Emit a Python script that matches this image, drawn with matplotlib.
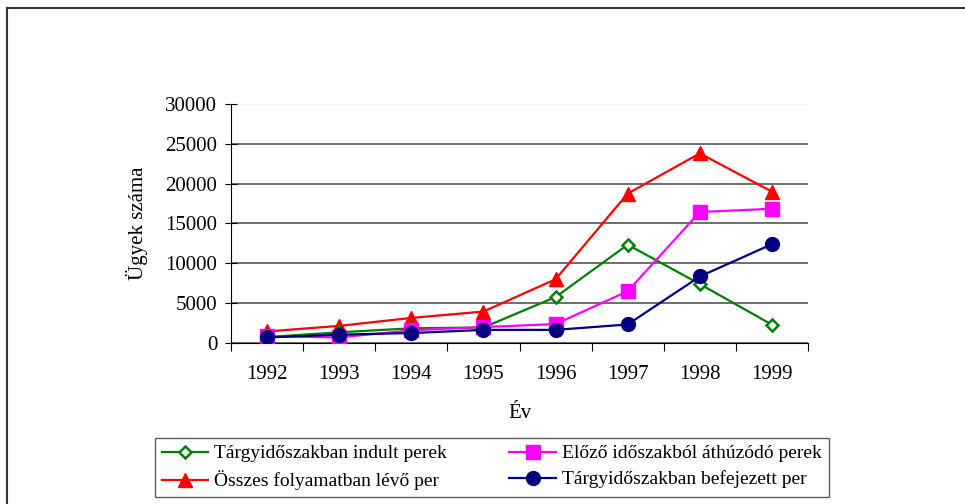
import matplotlib.pyplot as plt
from matplotlib.lines import Line2D

plt.rcParams['font.family'] = ['Liberation Serif', 'DejaVu Serif']

years = ['1992', '1993', '1994', '1995', '1996', '1997', '1998', '1999']
indult = [750, 1340, 1850, 1950, 5770, 12340, 7400, 2300]
athuzodo = [840, 710, 1590, 2000, 2380, 6500, 16440, 16850]
osszes = [1450, 2150, 3150, 3950, 8000, 18750, 23800, 19000]
befejezett = [700, 1050, 1250, 1650, 1650, 2330, 8350, 12400]

fig = plt.figure(figsize=(9.65, 5.04), dpi=100)
ax = fig.add_axes([0.2394, 0.3194, 0.5979, 0.4743])

x = list(range(len(years)))
l_red, = ax.plot(x, osszes, color='red', lw=1.6, marker='^', ms=10,
                 label='Összes folyamatban lévő per', zorder=3)
l_green, = ax.plot(x, indult, color='green', lw=1.6, marker='D', ms=6,
                   mfc='white', mec='green', mew=1.8,
                   label='Tárgyidőszakban indult perek', zorder=4)
l_mag, = ax.plot(x, athuzodo, color='magenta', lw=1.6, marker='s', ms=10,
                 label='Előző időszakból áthúzódó perek', zorder=5)
l_navy, = ax.plot(x, befejezett, color='navy', lw=1.6, marker='o', ms=10,
                  label='Tárgyidőszakban befejezett per', zorder=6)

ax.set_xlim(-0.5, len(years) - 0.5)
ax.set_ylim(0, 30000)
ax.set_yticks(range(0, 30001, 5000))
ax.set_xticks([i - 0.5 for i in range(len(years) + 1)])
ax.set_xticklabels([])
ax.set_xticks(x, minor=True)
ax.set_xticklabels(years, minor=True)
ax.tick_params(axis='x', which='major', direction='out', length=6, color='black')
ax.tick_params(axis='x', which='minor', length=0, pad=16, labelsize=15)
ax.tick_params(axis='y', direction='inout', length=8, labelsize=15, pad=6)

ax.spines['top'].set_visible(False)
ax.spines['right'].set_visible(False)
ax.grid(axis='y', color='#555555', lw=1.2)
ax.grid(axis='x', which='both', visible=False)
ax.get_ygridlines()[-1].set_color('#eeeeee')
ax.set_axisbelow(True)

ax.set_xlabel('Év', fontsize=15, labelpad=14)
ax.set_ylabel('Ügyek száma', fontsize=15, labelpad=12)

leg = fig.legend(handles=[l_green, l_red, l_mag, l_navy], ncol=2,
                 loc='upper left', bbox_to_anchor=(155 / 965, 1 - 438 / 504),
                 borderaxespad=0, fontsize=14, frameon=True, fancybox=False,
                 handlelength=2.4, columnspacing=3.2, borderpad=0.35,
                 labelspacing=0.42, handletextpad=0.3)
leg.get_frame().set_edgecolor('#333333')
leg.get_frame().set_linewidth(1.0)

# outer frame of the chart area
fig.add_artist(Line2D([7 / 965, 7 / 965], [0, 1 - 8 / 504], color='#333333', lw=1.5))
fig.add_artist(Line2D([7 / 965, 1], [1 - 8 / 504, 1 - 8 / 504], color='#333333', lw=1.5))

fig.savefig('out.png', dpi=100)
